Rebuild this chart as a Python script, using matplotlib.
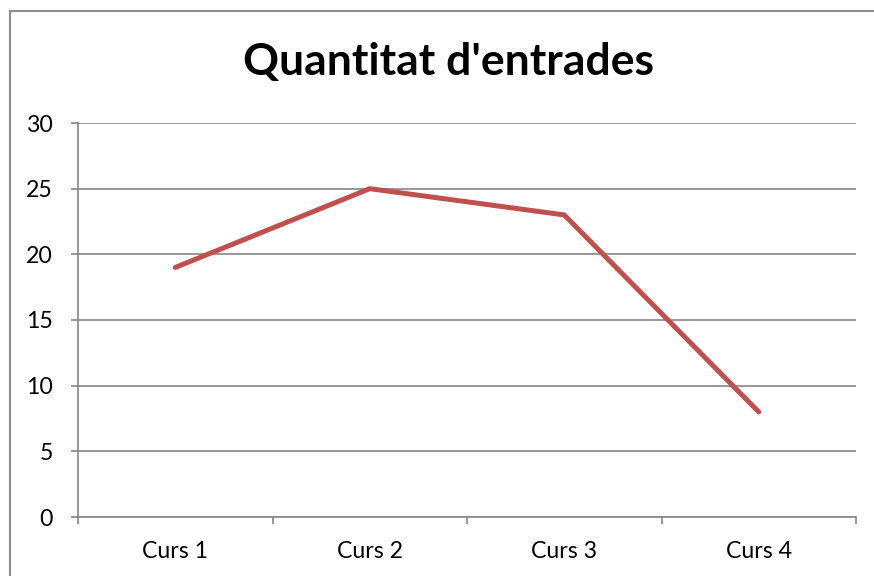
import matplotlib
matplotlib.use("Agg")
import matplotlib.pyplot as plt
from matplotlib.lines import Line2D
import numpy as np

categories = ["Curs 1", "Curs 2", "Curs 3", "Curs 4"]
values = [19, 25, 23, 8]
yticks = [0, 5, 10, 15, 20, 25, 30]

W, H = 874, 576
fig = plt.figure(figsize=(W / 100, H / 100), dpi=100)
fig.patch.set_facecolor("white")

# outer chart border (left and top visible)
bc = "#8c8c8c"
fig.add_artist(Line2D([10 / W, 10 / W], [0, 1 - 11 / H], transform=fig.transFigure, color=bc, lw=1.5))
fig.add_artist(Line2D([10 / W, 1], [1 - 11 / H, 1 - 11 / H], transform=fig.transFigure, color=bc, lw=1.5))

ax = fig.add_axes([78 / W, 1 - 517 / H, (856 - 78) / W, (517 - 123) / H])
x = np.arange(len(categories)) + 0.5
ax.plot(x, values, color="#C0504D", lw=3.6, solid_capstyle="round", solid_joinstyle="miter", zorder=3)

ax.set_xlim(0, len(categories))
ax.set_ylim(0, 30)
ax.set_yticks(yticks)
ax.set_yticklabels([str(v) for v in yticks])
ax.set_xticks(np.arange(len(categories) + 1))
ax.set_xticklabels([])
ax.set_xticks(x, minor=True)
ax.set_xticklabels(categories, minor=True)
ax.tick_params(axis="x", which="minor", length=0, pad=17)
ax.tick_params(axis="x", which="major", direction="out", length=5, color="#868686", width=1.2)
ax.tick_params(axis="y", direction="out", length=5, color="#868686", width=1.2, pad=13)

for lab in ax.get_xticklabels(minor=True) + ax.get_yticklabels():
    lab.set_fontfamily(["Lato", "DejaVu Sans"])
    lab.set_fontsize(16.7)
    lab.set_color("black")

ax.grid(axis="y", color="#868686", lw=1.2)
ax.set_axisbelow(True)
for s in ["top", "right"]:
    ax.spines[s].set_visible(False)
ax.spines["left"].set_color("#868686")
ax.spines["bottom"].set_color("#868686")
ax.spines["left"].set_linewidth(1.2)
ax.spines["bottom"].set_linewidth(1.2)

fig.text(449 / W, 1 - 62 / H, "Quantitat d'entrades", ha="center", va="center",
         fontsize=32, fontweight="bold", family=["Lato", "DejaVu Sans"])

fig.savefig("out.png", dpi=100)
